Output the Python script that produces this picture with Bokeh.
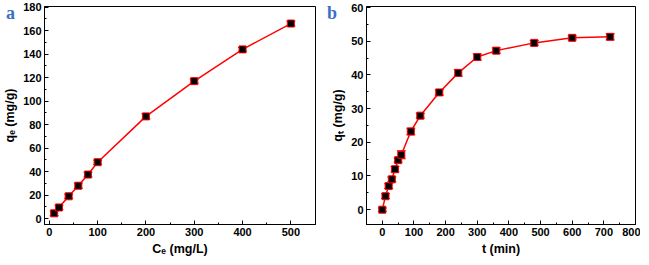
from bokeh.plotting import figure
from bokeh.layouts import row
from bokeh.models import ColumnDataSource, Whisker, SingleIntervalTicker, Range1d, Div
from bokeh.embed import file_html
from bokeh.resources import INLINE

# Panel a: adsorption isotherm
ce = [10, 20, 40, 60, 80, 100, 200, 300, 400, 500]
qe = [4.5, 9.5, 19, 28, 37.5, 48, 87, 117, 144, 166]
qe_err = [2, 1.8, 1.8, 2.2, 2, 1.8, 2.2, 1.8, 1.6, 2]

# Panel b: adsorption kinetics
t = [0, 10, 20, 30, 40, 50, 60, 90, 120, 180, 240, 300, 360, 480, 600, 720]
qt = [0, 4, 7, 9, 12, 14.7, 16.3, 23.2, 27.9, 34.8, 40.6, 45.3, 47.2, 49.5, 51, 51.3]
qt_err = [0.5, 0.7, 0.7, 0.7, 0.8, 0.6, 1.2, 1.0, 0.7, 0.8, 1.0, 0.9, 0.8, 0.7, 0.6, 0.9]

panel_labels = ["a", "b"]

FONT = "Liberation Sans"
RED = "#ff0000"


def style(p, xint, yint, xlab, ylab):
    p.xaxis.ticker = SingleIntervalTicker(interval=xint, num_minor_ticks=2)
    p.yaxis.ticker = SingleIntervalTicker(interval=yint, num_minor_ticks=2)
    p.xaxis.axis_label = xlab
    p.yaxis.axis_label = ylab
    for ax in (p.xaxis, p.yaxis):
        ax.axis_label_text_font = FONT
        ax.axis_label_text_font_style = "bold"
        ax.axis_label_text_font_size = "12.5px"
        ax.axis_label_text_color = "black"
        ax.major_label_text_font = FONT
        ax.major_label_text_font_style = "bold"
        ax.major_label_text_font_size = "11px"
        ax.major_label_text_color = "black"
        ax.major_tick_in = 4
        ax.major_tick_out = 0
        ax.minor_tick_in = 2
        ax.minor_tick_out = 0
        ax.axis_line_color = "black"
        ax.major_tick_line_color = "black"
        ax.minor_tick_line_color = "black"
    p.xaxis.axis_label_standoff = 3
    p.yaxis.axis_label_standoff = 3
    p.xaxis.major_label_standoff = 3
    p.yaxis.major_label_standoff = 3
    p.xgrid.visible = False
    p.ygrid.visible = False
    p.outline_line_color = "black"
    p.outline_line_width = 1
    p.background_fill_color = "white"
    p.border_fill_color = "white"


def draw(p, xs, ys, errs):
    lo = [y - e for y, e in zip(ys, errs)]
    hi = [y + e for y, e in zip(ys, errs)]
    src = ColumnDataSource(dict(x=xs, y=ys, lo=lo, hi=hi))
    p.line("x", "y", source=src, line_color=RED, line_width=1.5)
    w = Whisker(base="x", lower="lo", upper="hi", source=src, line_color=RED, line_width=1.2)
    w.upper_head.line_color = RED
    w.lower_head.line_color = RED
    w.upper_head.size = 9
    w.lower_head.size = 9
    p.add_layout(w)
    p.scatter("x", "y", source=src, marker="square", size=7, fill_color="black",
              line_color=RED, line_width=1)


def panel_div(letter, left):
    html = ('<span style="font-family:\'Liberation Serif\';font-weight:bold;font-size:18px;'
            'line-height:18px;color:#3c6ec8;white-space:nowrap;">%s</span>' % letter)
    return Div(text=html, width=12, height=20,
               styles={"position": "absolute", "left": "%dpx" % left, "top": "-1px",
                       "z-index": "10", "overflow": "visible"})


p1 = figure(width=325, height=258, output_backend="svg", toolbar_location=None,
            x_range=Range1d(-10, 551), y_range=Range1d(-5, 180.5),
            min_border_left=42, min_border_right=10, min_border_top=6, min_border_bottom=31)
style(p1, 100, 20, "Cₑ (mg/L)", "qₑ (mg/g)")
draw(p1, ce, qe, qe_err)

p2 = figure(width=315, height=258, output_backend="svg", toolbar_location=None,
            x_range=Range1d(-50, 800), y_range=Range1d(-4.4, 60.3),
            min_border_left=41, min_border_right=5, min_border_top=6, min_border_bottom=31)
style(p2, 100, 10, "t (min)", "qₜ (mg/g)")
draw(p2, t, qt, qt_err)

layout = row(p1, p2, panel_div(panel_labels[0], 1), panel_div(panel_labels[1], 322))
open("out.html", "w").write(file_html(layout, INLINE))
